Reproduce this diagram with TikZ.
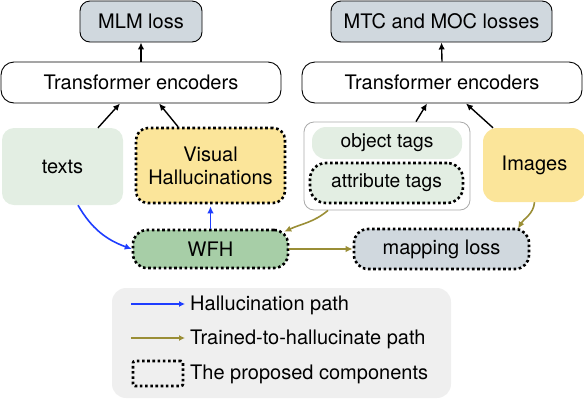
\documentclass[tikz,border=0pt]{standalone}
\usepackage{fontspec}
\setmainfont{TeX Gyre Heros}
\usetikzlibrary{arrows.meta,positioning}
\definecolor{softgreen}{HTML}{E3EEE3}
\definecolor{softyellow}{HTML}{FBE59A}
\definecolor{wfhgreen}{HTML}{A7CEA7}
\definecolor{lossgray}{HTML}{D0D8DE}
\definecolor{legendgray}{HTML}{EFEFEF}
\definecolor{hallblue}{HTML}{1E3DFF}
\definecolor{trainolive}{HTML}{9A8E36}
\definecolor{linegray}{HTML}{AAAAAA}
\tikzset{
  blk/.style={rounded corners=10pt, align=center, inner sep=0pt, font=\fontsize{20}{23}\selectfont},
  blkw/.style={blk, draw, line width=.9pt, fill=white, rounded corners=13pt},
  blkl/.style={blk, draw, line width=.9pt, fill=lossgray},
  prop/.style={draw=black, line width=2.6pt, dash pattern=on 2.6pt off 2.6pt},
  ar/.style={-{Latex[length=7pt,width=6.5pt]}, line width=1.4pt},
  hp/.style={ar, color=hallblue, line width=1.6pt},
  tp/.style={ar, color=trainolive, line width=1.6pt},
  lbl/.style={anchor=west, inner sep=0pt, font=\fontsize{20}{23}\selectfont},
}
\begin{document}
\begin{tikzpicture}[x=1pt,y=1pt]
  \useasboundingbox (0,0) rectangle (584,-400);
  % legend
  \node[fill=legendgray, rounded corners=14pt, minimum width=339pt, minimum height=110pt] (leg) at (281.5,-343) {};
  \coordinate (h1) at (131,-304);
  \coordinate (h2) at (185,-304);
  \coordinate (t1) at (131,-338);
  \coordinate (t2) at (185,-338);
  \draw[hp, -{Latex[length=6pt,width=6pt]}, line width=1.3pt] (h1) -- (h2);
  \draw[tp, -{Latex[length=6pt,width=6pt]}, line width=1.3pt] (t1) -- (t2);
  \node[prop, minimum width=50pt, minimum height=25pt, rounded corners=2pt] (pk) at (158,-373.5) {};
  \node[lbl] (hl) at (190,-305) {Hallucination path};
  \node[lbl] (tl) at (190,-339) {Trained-to-hallucinate path};
  \node[lbl] (pl) at (190,-374) {The proposed components};

  % left branch
  \node[blkl, minimum width=122pt, minimum height=41pt] (mlm) at (141,-21.5) {MLM loss};
  \node[blkw, minimum width=280pt, minimum height=41pt] (teL) at (141,-82.5) {Transformer encoders};
  \node[blk, fill=softgreen, rounded corners=12pt, minimum width=121pt, minimum height=77pt] (texts) at (62.5,-166.5) {texts};
  \node[blk, prop, fill=softyellow, rounded corners=12pt, minimum width=149pt, minimum height=75pt] (vis) at (210.5,-165.5) {Visual\\Hallucinations};
  \node[blk, prop, fill=wfhgreen, rounded corners=14pt, minimum width=155pt, minimum height=38pt] (wfh) at (210.5,-249) {WFH};

  % right branch
  \node[blkl, minimum width=221pt, minimum height=41pt] (mtc) at (441.5,-21.5) {MTC and MOC losses};
  \node[blkw, minimum width=280pt, minimum height=41pt] (teR) at (442,-82.5) {Transformer encoders};
  \node[draw=linegray, line width=.8pt, fill=white, rounded corners=10pt, minimum width=166pt, minimum height=88pt] (grp) at (387,-166) {};
  \node[blk, fill=softgreen, rounded corners=14pt, minimum width=150pt, minimum height=32pt, font=\fontsize{19.2}{22}\selectfont] (obj) at (387,-143) {object tags};
  \node[blk, prop, fill=softgreen, rounded corners=16pt, minimum width=153pt, minimum height=40pt, font=\fontsize{19.2}{22}\selectfont] (attr) at (386.5,-183) {attribute tags};
  \node[blk, fill=softyellow, rounded corners=14pt, minimum width=103pt, minimum height=74pt] (img) at (534.5,-165) {Images};
  \node[blk, prop, fill=lossgray, rounded corners=14pt, minimum width=175pt, minimum height=40pt] (map) at (441.5,-249) {mapping loss};

  % connectors
  \draw[ar] (teL.north) -- (mlm.south);
  \draw[ar] (teR.north) -- (mtc.south);
  \draw[ar] ([xshift=35.5pt]texts.north) -- ([xshift=-21pt]teL.south);
  \draw[ar] ([xshift=-32.5pt]vis.north) -- ([xshift=18pt]teL.south);
  \draw[ar] ([xshift=29pt]grp.north) -- ([xshift=-15pt]teR.south);
  \draw[ar] ([xshift=-41.5pt]img.north) -- ([xshift=24pt]teR.south);
  \draw[hp] ([xshift=15.5pt]texts.south) to[out=-60,in=160] (wfh.west);
  \draw[hp, shorten >=2pt] (wfh.north) -- (vis.south);
  \draw[tp] ([xshift=-59pt]grp.south) to[out=-140,in=25] ([xshift=-5pt,yshift=-3pt]wfh.north east);
  \draw[tp] (wfh.east) -- (map.west);
  \draw[tp] (img.south) to[out=-95,in=60] ([xshift=76.5pt,yshift=-1pt]map.north);
\end{tikzpicture}
\end{document}
